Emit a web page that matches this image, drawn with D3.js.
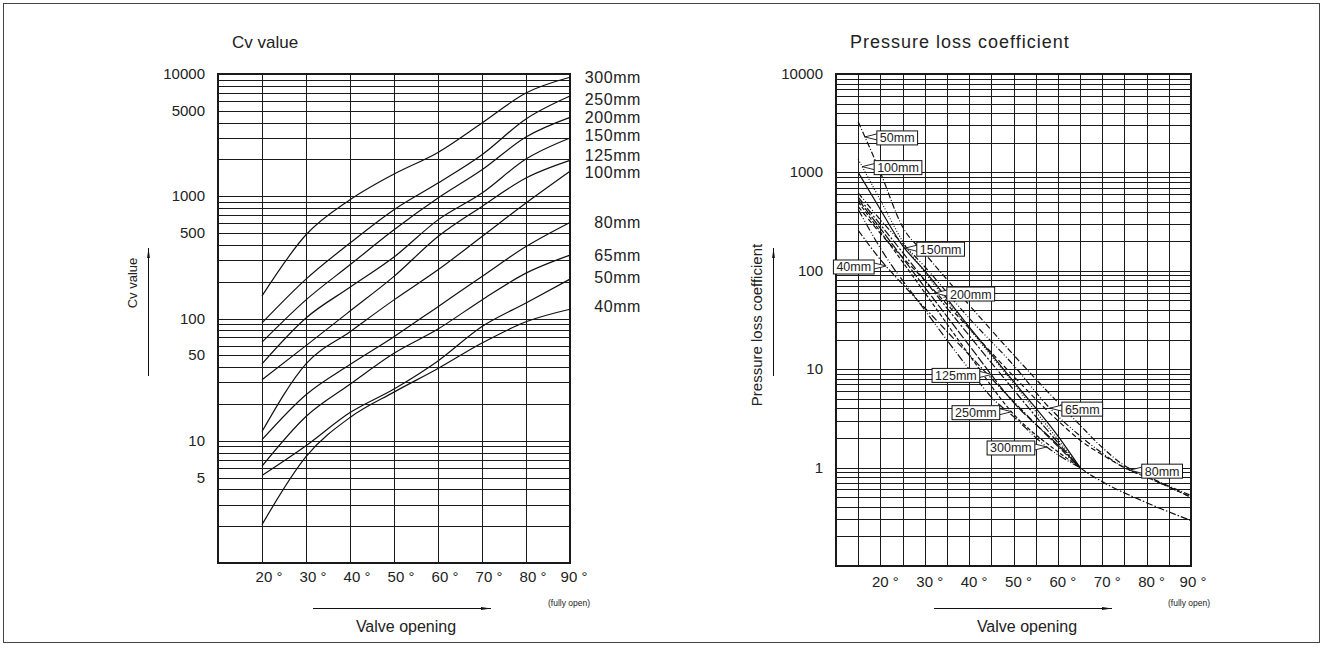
<!DOCTYPE html>
<html lang="en">
<head>
<meta charset="UTF-8">
<title>Cv value / Pressure loss coefficient</title>
<style>
  body { margin: 0; background: #fff; }
  svg { display: block; font-family: "Liberation Sans", Arial, sans-serif; }
  .grid line { stroke: #1a1a1a; stroke-width: 1; shape-rendering: crispEdges; }
  .frame { fill: none; stroke: #1a1a1a; stroke-width: 1.2; shape-rendering: crispEdges; }
  .curve { fill: none; stroke: #111; stroke-width: 1.2; }
  text { fill: #222; }
</style>
</head>
<body>
<svg width="1324" height="648"></svg>
<script src="https://d3js.org/d3.v7.min.js"></script>
<script>
// ---- Cv value chart (left) ----
const openings = [20, 30, 40, 50, 60, 70, 80, 90];
const cvSizes = ["300mm", "250mm", "200mm", "150mm", "125mm", "100mm", "80mm", "65mm", "50mm", "40mm"];
const cv300 = [153, 484, 936, 1520, 2283, 3970, 6990, 9400];
const cv250 = [92, 210, 414, 776, 1282, 2187, 4285, 6600];
const cv200 = [64, 142, 275, 532, 967, 1648, 3052, 4415];
const cv150 = [42.6, 101, 180, 318, 641, 1062, 2015, 2996];
const cv125 = [31.5, 60, 115, 221, 469, 826, 1409, 1963];
const cv100 = [11.9, 42.6, 78, 142, 250, 469, 880, 1600];
const cv80 = [10.2, 23.8, 42, 71, 125, 221, 388, 611];
const cv65 = [6.2, 15.8, 29, 52, 82, 142, 235, 330];
const cv50 = [5.2, 9.1, 17, 26.5, 45, 86, 134, 210];
const cv40 = [2.06, 7.4, 15.5, 25, 39, 63, 94, 119];
const cvSeries = [cv300, cv250, cv200, cv150, cv125, cv100, cv80, cv65, cv50, cv40];
const cvTicks = [10000, 5000, 1000, 500, 100, 50, 10, 5];

// ---- Pressure loss coefficient chart (right) : [opening, value] ----
const pl40 = [[15, 258], [20, 130], [25, 73], [30, 42], [40, 14], [50, 4.7], [60, 1.65], [65, 1.0], [70, 0.72], [80, 0.44], [90, 0.29]];
const pl50 = [[15, 3275], [20, 1000], [25, 280], [30, 150], [40, 45], [50, 14], [60, 4.6], [65, 2.7], [70, 1.6], [75, 1.05], [80, 0.82], [90, 0.52]];
const pl65 = [[15, 620], [20, 330], [30, 110], [40, 33], [50, 11], [58, 4.1], [65, 2.1], [70, 1.4], [75, 1.0], [80, 0.8], [90, 0.5]];
const pl80 = [[15, 450], [20, 240], [30, 80], [40, 26], [50, 8.5], [60, 3.0], [65, 1.9], [70, 1.35], [76, 0.95], [80, 0.8], [90, 0.5]];
const pl100 = [[15, 1360], [20, 522], [25, 200], [30, 97], [40, 26], [50, 7.2], [60, 1.93], [65, 1.0]];
const pl125 = [[15, 530], [20, 270], [30, 68], [40, 17.5], [50, 4.6], [60, 1.7], [65, 1.0]];
const pl150 = [[15, 1000], [20, 420], [25, 180], [30, 100], [40, 27], [50, 7.5], [60, 2.1], [65, 1.0]];
const pl200 = [[15, 560], [20, 295], [30, 80], [40, 22], [50, 6.2], [60, 1.8], [65, 1.0]];
const pl250 = [[15, 500], [20, 250], [30, 60], [40, 14], [50, 3.5], [60, 1.45], [65, 1.0]];
const pl300 = [[15, 420], [20, 170], [30, 40], [40, 10], [45, 5.2], [50, 3.3], [57.5, 1.62], [65, 1.0]];
const plSizes = ["40mm", "50mm", "65mm", "80mm", "100mm", "125mm", "150mm", "200mm", "250mm", "300mm"];
const plSeries = [pl40, pl50, pl65, pl80, pl100, pl125, pl150, pl200, pl250, pl300];
const plTicks = [10000, 1000, 100, 10, 1];
const degTicks = [20, 30, 40, 50, 60, 70, 80, 90];

const svg = d3.select("svg");

// outer border
svg.append("rect").attr("x", 3.5).attr("y", 3.5).attr("width", 1316).attr("height", 639)
    .attr("fill", "none").attr("stroke", "#444").attr("stroke-width", 1);

const defs = svg.append("defs");
defs.append("marker").attr("id", "head").attr("viewBox", "0 0 10 4")
    .attr("refX", 10).attr("refY", 2).attr("markerWidth", 10).attr("markerHeight", 4)
    .attr("markerUnits", "userSpaceOnUse").attr("orient", "auto")
    .append("path").attr("d", "M0,0.6 L10,2 L0,3.4 Z").attr("fill", "#111");

function logGrid(lo, hi) {
    const vals = [];
    for (let e = Math.log10(lo); e < Math.log10(hi); e++) {
        for (let k = 1; k <= 9; k++) vals.push(k * Math.pow(10, e));
    }
    vals.push(hi);
    return vals;
}

function panel(x, y, vLines) {
    const g = svg.append("g");
    const grid = g.append("g").attr("class", "grid");
    grid.selectAll("line.h").data(logGrid(y.domain()[0], y.domain()[1])).join("line")
        .attr("x1", x.range()[0]).attr("x2", x.range()[1])
        .attr("y1", d => Math.round(y(d)) + 0.5).attr("y2", d => Math.round(y(d)) + 0.5);
    grid.selectAll("line.v").data(vLines).join("line")
        .attr("y1", y.range()[0]).attr("y2", y.range()[1])
        .attr("x1", d => Math.round(x(d)) + 0.5).attr("x2", d => Math.round(x(d)) + 0.5);
    g.append("rect").attr("class", "frame")
        .attr("x", x.range()[0]).attr("y", y.range()[1])
        .attr("width", x.range()[1] - x.range()[0]).attr("height", y.range()[0] - y.range()[1]);
    return g;
}

function xAxisText(g, x, yBase, dx, arrowFrom, arrowTo, fullX) {
    g.selectAll("text.xt").data(degTicks).join("text")
        .attr("x", d => x(d) + (d === 90 ? dx - 3 : dx)).attr("y", yBase)
        .attr("text-anchor", "middle").attr("font-size", 15)
        .text(d => d + " \u00b0");
    g.append("text").attr("x", fullX).attr("y", 606).attr("font-size", 8.5).text("(fully open)");
    g.append("line").attr("x1", arrowFrom).attr("x2", arrowTo).attr("y1", 608.5).attr("y2", 608.5)
        .attr("stroke", "#111").attr("stroke-width", 1).attr("marker-end", "url(#head)");
    g.append("text").attr("x", (arrowFrom + arrowTo) / 2 + 4).attr("y", 632)
        .attr("text-anchor", "middle").attr("font-size", 16).text("Valve opening");
}

// ---------- left: Cv value ----------
const xL = d3.scaleLinear().domain([10, 90]).range([218, 570]);
const yL = d3.scaleLog().domain([1, 10000]).range([563, 74]);
const gL = panel(xL, yL, d3.range(20, 91, 10));

gL.selectAll("text.yt").data(cvTicks).join("text")
    .attr("x", 205).attr("y", d => yL(d) + 5).attr("text-anchor", "end")
    .attr("font-size", 15).text(d => d);

const lineL = d3.line().x((d, i) => xL(openings[i])).y(d => yL(d)).curve(d3.curveMonotoneX);
gL.selectAll("path.curve").data(cvSeries).join("path")
    .attr("class", "curve").attr("d", lineL);

// small vertical nudges so the end labels sit like the original
const cvLabelNudge = { "250mm": 3, "150mm": -2, "125mm": -5, "100mm": 1, "50mm": -2, "40mm": -3 };
gL.selectAll("text.size").data(cvSeries).join("text")
    .attr("x", 641).attr("y", (d, i) => yL(d[d.length - 1]) + 5.5 + (cvLabelNudge[cvSizes[i]] || 0))
    .attr("text-anchor", "end").attr("font-size", 16).attr("letter-spacing", 0.6)
    .text((d, i) => cvSizes[i]);

gL.append("text").attr("x", 232).attr("y", 48).attr("font-size", 17).text("Cv value");
gL.append("text").attr("transform", "translate(137,283) rotate(-90)")
    .attr("text-anchor", "middle").attr("font-size", 13).text("Cv value");
gL.append("line").attr("x1", 148.5).attr("x2", 148.5).attr("y1", 376).attr("y2", 248)
    .attr("stroke", "#111").attr("marker-end", "url(#head)");
xAxisText(gL, xL, 582, 7, 313, 491, 548);

// ---------- right: Pressure loss coefficient ----------
const xR = d3.scaleLinear().domain([10, 90]).range([836, 1191]);
const yR = d3.scaleLog().domain([0.1, 10000]).range([566, 74]);
const gR = panel(xR, yR, d3.range(15, 86, 5));

gR.selectAll("text.yt").data(plTicks).join("text")
    .attr("x", 823).attr("y", d => yR(d) + 5).attr("text-anchor", "end")
    .attr("font-size", 15).text(d => d);

const dashes = {
    "40mm": "7,2,1.5,2", "50mm": "6,2,1,2", "65mm": "6,2,1,2,1,2", "80mm": "5,3",
    "100mm": "1,1.8", "125mm": "9,2", "150mm": null, "200mm": "8,2,2,2",
    "250mm": "4,2", "300mm": "8,2,1,2,1,2"
};
const lineR = d3.line().x(d => xR(d[0])).y(d => yR(d[1])).curve(d3.curveMonotoneX);
gR.selectAll("path.curve").data(plSeries).join("path")
    .attr("class", "curve").attr("stroke-width", 1)
    .attr("stroke-dasharray", (d, i) => dashes[plSizes[i]])
    .attr("d", lineR);

function valueAt(series, deg) {
    for (let i = 0; i < series.length - 1; i++) {
        const [x0, v0] = series[i], [x1, v1] = series[i + 1];
        if (deg >= x0 && deg <= x1) {
            const t = (deg - x0) / (x1 - x0);
            return Math.pow(10, Math.log10(v0) + t * (Math.log10(v1) - Math.log10(v0)));
        }
    }
    return series[series.length - 1][1];
}

// callout boxes: where each one touches its curve, and on which side the box sits
const callouts = [
    { size: "50mm", at: 16.5, side: 1 }, { size: "100mm", at: 15.9, side: 1 },
    { size: "150mm", at: 25.5, side: 1 }, { size: "40mm", at: 21.3, side: -1 },
    { size: "200mm", at: 32.3, side: 1 }, { size: "125mm", at: 45.1, side: -1 },
    { size: "250mm", at: 49.6, side: -1 }, { size: "65mm", at: 58.2, side: 1 },
    { size: "300mm", at: 57.5, side: -1 }, { size: "80mm", at: 76.2, side: 1 }
];
callouts.forEach(c => {
    const s = plSeries[plSizes.indexOf(c.size)];
    const tx = xR(c.at), ty = yR(valueAt(s, c.at));
    const cg = gR.append("g");
    const t = cg.append("text").attr("font-size", 12.5).attr("fill", "#111").text(c.size);
    const w = t.node().getComputedTextLength() + 6, h = 14;
    const edge = tx + c.side * 12;
    const bx = c.side > 0 ? edge : edge - w;
    const cy = ty + 1;
    cg.insert("path", "text")
        .attr("d", `M${edge},${cy - 4}L${tx},${ty}L${edge},${cy + 2}`)
        .attr("fill", "#fff").attr("stroke", "#111").attr("stroke-width", 0.9);
    cg.insert("rect", "text").attr("x", bx).attr("y", cy - h / 2).attr("width", w).attr("height", h)
        .attr("fill", "#fff").attr("stroke", "#111").attr("stroke-width", 1);
    t.attr("x", bx + 3).attr("y", cy + 4.5);
});

gR.append("text").attr("x", 850).attr("y", 48).attr("font-size", 18).attr("letter-spacing", 1)
    .text("Pressure loss coefficient");
gR.append("text").attr("transform", "translate(762,325) rotate(-90)")
    .attr("text-anchor", "middle").attr("font-size", 15).text("Pressure loss coefficient");
gR.append("line").attr("x1", 773.5).attr("x2", 773.5).attr("y1", 376).attr("y2", 248)
    .attr("stroke", "#111").attr("marker-end", "url(#head)");
xAxisText(gR, xR, 587, 5, 934, 1112, 1168);
</script>
</body>
</html>
